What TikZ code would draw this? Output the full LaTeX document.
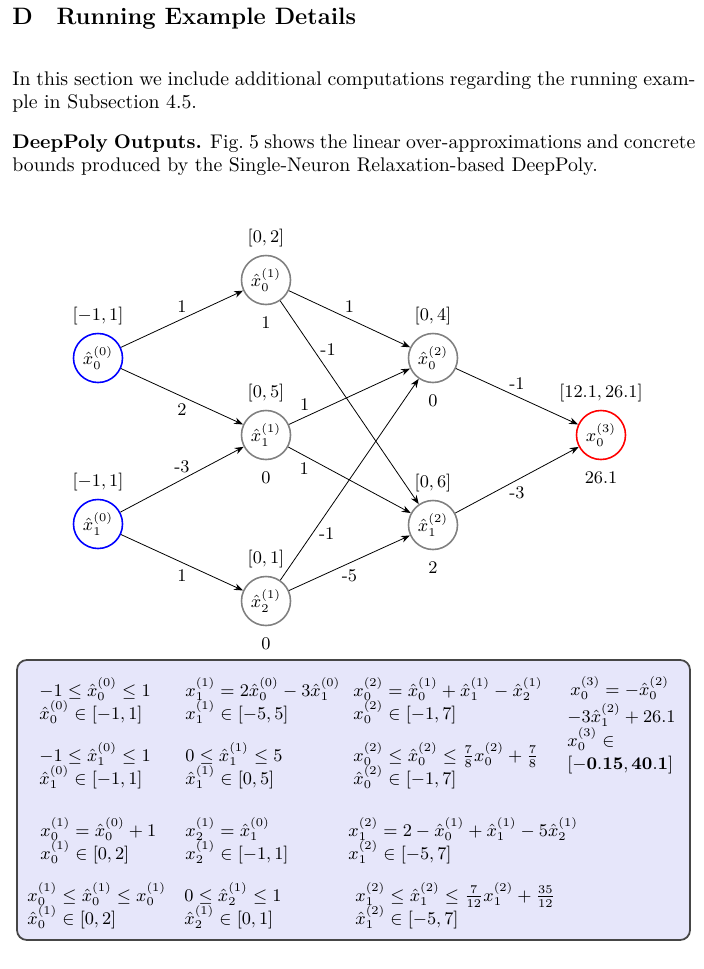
\documentclass[tikz,border=0pt]{standalone}
\usetikzlibrary{arrows.meta}
\definecolor{boxfill}{RGB}{230,230,250}
\definecolor{boxline}{RGB}{70,70,70}
\tikzset{
  neuron/.style={circle, draw=gray, thick, minimum size=24.8pt, inner sep=0pt, font=\small},
  inneuron/.style={neuron, draw=blue},
  outneuron/.style={neuron, draw=red},
  conn/.style={-{Stealth[length=4.5pt,width=3.4pt]}},
  txt/.style={anchor=base west, inner sep=0pt},
}
\begin{document}
\begin{tikzpicture}[x=0.506pt,y=-0.506pt]
  \useasboundingbox (0,0) rectangle (703,969);
  \node[txt, font=\large\bfseries] (sec) at (12,24) {D\quad Running Example Details};
  \node[txt, text width=345.6pt, align=justify] (par1) at (12,85)
    {In this section we include additional computations regarding the running example in Subsection 4.5.};
  \node[txt, text width=345.6pt, align=justify] (par2) at (12,148)
    {\textbf{DeepPoly Outputs.} Fig.~5 shows the linear over-approximations and concrete bounds produced by the Single-Neuron Relaxation-based DeepPoly.};

  \node[inneuron] (in0) at (98,358) {$\hat{x}_0^{(0)}$};
  \node[inneuron] (in1) at (98,524) {$\hat{x}_1^{(0)}$};
  \node[neuron] (h0) at (266,280) {$\hat{x}_0^{(1)}$};
  \node[neuron] (h1) at (266,435) {$\hat{x}_1^{(1)}$};
  \node[neuron] (h2) at (266,601) {$\hat{x}_2^{(1)}$};
  \node[neuron] (g0) at (433,358) {$\hat{x}_0^{(2)}$};
  \node[neuron] (g1) at (433,525) {$\hat{x}_1^{(2)}$};
  \node[outneuron] (out) at (601,435) {$x_0^{(3)}$};

  \foreach \n/\lab in {in0/{[-1,1]}, in1/{[-1,1]}, h0/{[0,2]}, h1/{[0,5]}, h2/{[0,1]},
                       g0/{[0,4]}, g1/{[0,6]}, out/{[12.1,26.1]}}
    \path (\n) ++(0,-42) node[font=\small] (\n-bnd) {$\lab$};
  \foreach \n/\lab in {h0/1, h1/0, h2/0, g0/0, g1/2, out/26.1}
    \path (\n) ++(0,43) node[font=\small] (\n-val) {$\lab$};

  \foreach \a/\b/\p/\side/\w in {in0/h0/0.5/above/1, in0/h1/0.5/below/2,
      in1/h1/0.5/above/-3, in1/h2/0.5/below/1,
      h0/g0/0.5/above/1, h0/g1/0.24/right/-1, h1/g0/0.13/above/1, h1/g1/0.13/below/1,
      h2/g0/0.23/right/-1, h2/g1/0.5/below/-5,
      g0/out/0.5/above/-1, g1/out/0.5/below/-3}
    \draw[conn] (\a) -- (\b) node[pos=\p,\side,font=\small] {\w};

  \draw[boxline, fill=boxfill, rounded corners=5pt, line width=0.9pt] (17,660) rectangle (690,940);
  \foreach \x/\y/\t [count=\i] in {
      39/696/{-1 \le \hat{x}_0^{(0)} \le 1}, 39/719/{\hat{x}_0^{(0)} \in [-1,1]},
      185/696/{x_1^{(1)} = 2\hat{x}_0^{(0)} - 3\hat{x}_1^{(0)}}, 185/719/{x_1^{(1)} \in [-5,5]},
      353/696/{x_0^{(2)} = \hat{x}_0^{(1)} + \hat{x}_1^{(1)} - \hat{x}_2^{(1)}}, 353/719/{x_0^{(2)} \in [-1,7]},
      39/761/{-1 \le \hat{x}_1^{(0)} \le 1}, 39/784/{\hat{x}_1^{(0)} \in [-1,1]},
      185/761/{0 \le \hat{x}_1^{(1)} \le 5}, 185/784/{\hat{x}_1^{(1)} \in [0,5]},
      353/761/{x_0^{(2)} \le \hat{x}_0^{(2)} \le \frac{7}{8}x_0^{(2)} + \frac{7}{8}}, 353/784/{\hat{x}_0^{(2)} \in [-1,7]},
      40/836/{x_0^{(1)} = \hat{x}_0^{(0)} + 1}, 40/859/{x_0^{(1)} \in [0,2]},
      185/836/{x_2^{(1)} = \hat{x}_1^{(0)}}, 185/859/{x_2^{(1)} \in [-1,1]},
      348/836/{x_1^{(2)} = 2 - \hat{x}_0^{(1)} + \hat{x}_1^{(1)} - 5\hat{x}_2^{(1)}}, 348/859/{x_1^{(2)} \in [-5,7]},
      27/901/{x_0^{(1)} \le \hat{x}_0^{(1)} \le x_0^{(1)}}, 27/924/{\hat{x}_0^{(1)} \in [0,2]},
      184/901/{0 \le \hat{x}_2^{(1)} \le 1}, 184/924/{\hat{x}_2^{(1)} \in [0,1]},
      355/901/{x_1^{(2)} \le \hat{x}_1^{(2)} \le \frac{7}{12}x_1^{(2)} + \frac{35}{12}}, 355/924/{\hat{x}_1^{(2)} \in [-5,7]},
      570/695/{x_0^{(3)} = -\hat{x}_0^{(2)}}, 567/722/{-3\hat{x}_1^{(2)} + 26.1},
      567/746/{x_0^{(3)} \in}, 567/769/{[\mathbf{-0.15}, \mathbf{40.1}]}}
    \node[txt, font=\small] (eq\i) at (\x,\y) {$\t$};
\end{tikzpicture}
\end{document}
